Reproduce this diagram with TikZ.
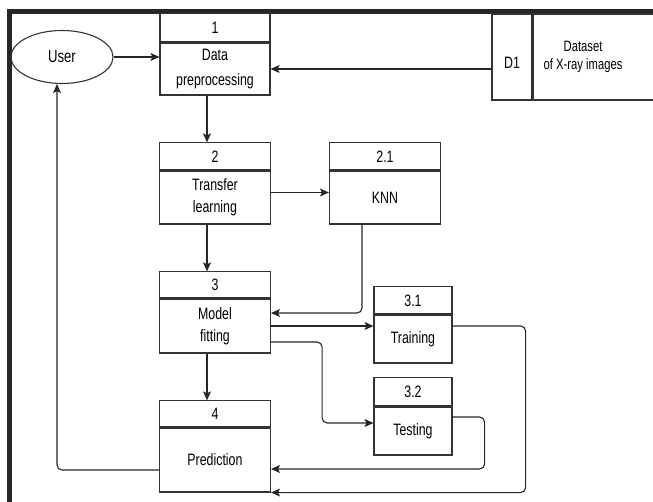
\documentclass[tikz,border=0pt]{standalone}
\usepackage{fontspec}
\setmainfont{Liberation Sans}[FakeStretch=0.75]
\usepackage{tikz}
\usetikzlibrary{shapes.geometric, arrows.meta, positioning}

\begin{document}
\begin{tikzpicture}[
    x=1pt, y=-1pt,
    font=\fontsize{16.5}{22}\selectfont,
    process/.style={
        rectangle,
        draw=black!80,
        line width=1.1pt,
        minimum width=111pt,
        minimum height=53pt,
        align=center
    },
    header/.style={
        process,
        minimum height=27pt,
        anchor=south
    },
    extern/.style={
        ellipse,
        draw=black!80,
        line width=1.1pt,
        minimum width=102pt,
        minimum height=53pt
    },
    store/.style={
        rectangle,
        draw=black!80,
        line width=1.1pt,
        minimum height=86pt
    },
    flow/.style={
        -{Stealth[length=9pt, width=8pt, inset=2pt]},
        line width=1.1pt,
        black!85
    }
]
    \useasboundingbox (0,0) rectangle (653,502);

    % Frame
    \fill[black!85] (7,9) rectangle (653,14);
    \fill[black!85] (7,9) rectangle (12,502);

    % Processes
    \node[process, minimum width=110pt, minimum height=52pt, font=\fontsize{16.5}{25}\selectfont] (p1) at (215,69) {Data\\preprocessing};
    \node[header, minimum width=110pt, minimum height=28pt] (p1h) at (p1.north) {1};
    \node[process] (p2) at (215,197.5) {Transfer\\learning};
    \node[header] (p2h) at (p2.north) {2};
    \node[process] (p21) at (385,197.5) {KNN};
    \node[header] (p21h) at (p21.north) {2.1};
    \node[process, minimum height=54pt] (p3) at (215,326) {Model\\fitting};
    \node[header, minimum height=26pt] (p3h) at (p3.north) {3};
    \node[process, minimum width=78pt, minimum height=48pt] (p31) at (413,339) {Training};
    \node[header, minimum width=78pt] (p31h) at (p31.north) {3.1};
    \node[process, minimum width=78pt, minimum height=48pt] (p32) at (413,431) {Testing};
    \node[header, minimum width=78pt, minimum height=28pt] (p32h) at (p32.north) {3.2};
    \node[process, minimum height=64pt] (p4) at (215,460) {Prediction};
    \node[header, minimum height=26pt] (p4h) at (p4.north) {4};

    % External entity and data store
    \node[extern, font=\fontsize{17.5}{22}\selectfont] (user) at (62,57) {User};
    \node[store, minimum width=40pt, label={[yshift=-6pt]center:D1}] (d1) at (512,57) {};
    \node[store, minimum width=140pt, anchor=west,
        label={[xshift=-20pt, align=center, font=\fontsize{15}{18}\selectfont]center:Dataset\\of X-ray images}] (data) at (d1.east) {};

    % Flows
    \draw[flow] (user.east) -- (user.east -| p1.west);
    \draw[flow] (d1.west |- p1.east) -- (p1.east);
    \draw[flow] ([xshift=-8pt]p1.south) -- ([xshift=-8pt]p2h.north);
    \draw[flow] ([yshift=5pt]p2.east) -- ([yshift=5pt]p2.east -| p21.west);
    \draw[flow] ([xshift=-8pt]p2.south) -- ([xshift=-8pt]p3h.north);
    \draw[flow, rounded corners=5pt] ([xshift=-23pt]p21.south) |- ([yshift=13pt]p3.east);
    \draw[flow] (p3.east) -- (p3.east -| p31.west);
    \draw[flow, rounded corners=5pt] ([yshift=-16pt]p3.east) -- ++(51,0) |- ([yshift=8pt]p32.west);
    \draw[flow, rounded corners=5pt] ([yshift=14pt]p32.east) -- ++(32,0) |- ([yshift=-9pt]p4.east);
    \draw[flow, rounded corners=5pt] ([yshift=13pt]p31.east) -- ++(73,0) |- (p4.south east);
    \draw[flow] ([xshift=-8pt]p3.south) -- ([xshift=-8pt]p4h.north);
    \draw[flow, rounded corners=5pt] ([yshift=-10pt]p4.west) -| ([xshift=-5pt]user.south);

\end{tikzpicture}
\end{document}
